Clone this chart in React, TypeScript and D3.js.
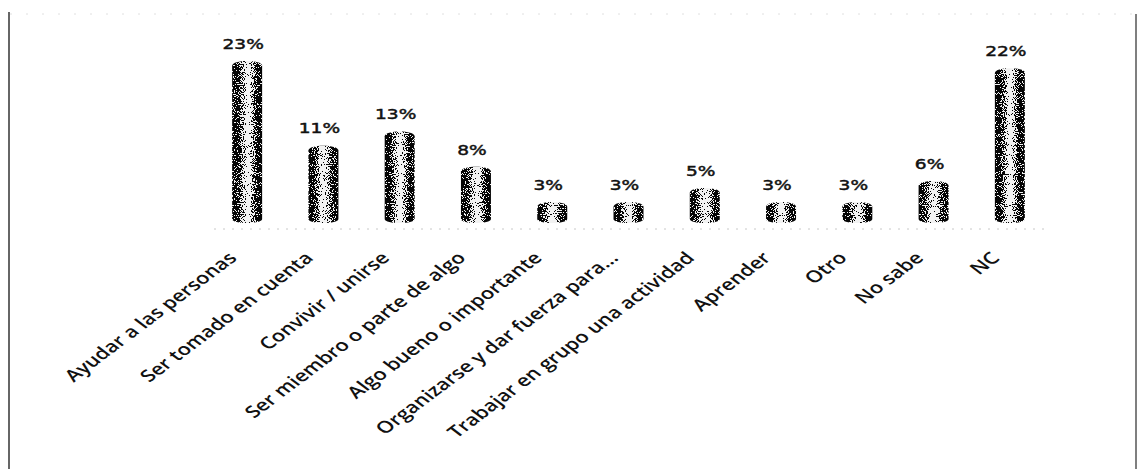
import React from "react";
import * as d3 from "d3";

const categories: string[] = [
  "Ayudar a las personas",
  "Ser tomado en cuenta",
  "Convivir / unirse",
  "Ser miembro o parte de algo",
  "Algo bueno o importante",
  "Organizarse y dar fuerza para...",
  "Trabajar en grupo una actividad",
  "Aprender",
  "Otro",
  "No sabe",
  "NC",
];
const values: number[] = [23, 11, 13, 8, 3, 3, 5, 3, 3, 6, 22];
const valueLabels: string[] = ["23%", "11%", "13%", "8%", "3%", "3%", "5%", "3%", "3%", "6%", "22%"];

const W = 1137;
const H = 469;
const BASE = 223;
const SX = 1.33; // horizontal stretch of the scanned picture

export default function App() {
  const x = d3
    .scaleBand<string>()
    .domain(categories)
    .range([209, 1048])
    .paddingInner(0.607)
    .paddingOuter(0.3035);
  const y = d3.scaleLinear().domain([0, 25]).range([BASE, BASE - 25 * 7.05]);
  const bw = x.bandwidth();
  const ry = 4;

  const cyl = (x0: number, top: number) => {
    const p = d3.path();
    p.moveTo(x0, top + ry + 1);
    p.bezierCurveTo(x0, top - ry / 3, x0 + bw, top - ry / 3, x0 + bw, top + ry + 1);
    p.lineTo(x0 + bw, BASE - ry);
    p.bezierCurveTo(x0 + bw, BASE + ry / 3, x0, BASE + ry / 3, x0, BASE - ry);
    p.closePath();
    return p.toString();
  };

  return (
    <svg
      width={W}
      height={H}
      style={{ position: "absolute", left: 0, top: 0, background: "#fff" }}
    >
      <defs>
        <linearGradient id="cylGrad" x1="0" x2="1" y1="0" y2="0">
          <stop offset="0" stopColor="#000" />
          <stop offset="0.14" stopColor="#000" />
          <stop offset="0.3" stopColor="#3a3a3a" />
          <stop offset="0.52" stopColor="#a8a8a8" />
          <stop offset="0.72" stopColor="#3a3a3a" />
          <stop offset="0.86" stopColor="#000" />
          <stop offset="1" stopColor="#000" />
        </linearGradient>
        <filter id="dither" x="0" y="0" width="1" height="1" colorInterpolationFilters="sRGB">
          <feTurbulence type="fractalNoise" baseFrequency="0.9" numOctaves="1" seed="7" result="n" />
          <feColorMatrix
            in="n"
            type="matrix"
            values="2.2 0 0 0 -0.6  2.2 0 0 0 -0.6  2.2 0 0 0 -0.6  0 0 0 0 1"
            result="ng"
          />
          <feComposite in="SourceGraphic" in2="ng" operator="arithmetic" k1="0" k2="1" k3="-1" k4="0.5" result="d" />
          <feComponentTransfer in="d" result="b">
            <feFuncR type="discrete" tableValues="0.02 0.95" />
            <feFuncG type="discrete" tableValues="0.02 0.95" />
            <feFuncB type="discrete" tableValues="0.02 0.95" />
            <feFuncA type="linear" slope="0" intercept="1" />
          </feComponentTransfer>
          <feComposite in="b" in2="SourceAlpha" operator="in" />
        </filter>
      </defs>

      {/* frame */}
      <line x1={9} x2={9} y1={12} y2={H} stroke="#333" strokeWidth={1.5} />
      <line x1={1136} x2={1136} y1={14} y2={H} stroke="#555" strokeWidth={1.5} />
      <line x1={10} x2={1135} y1={14} y2={14} stroke="#e0e0e0" strokeWidth={1} strokeDasharray="2 14" />

      {/* axis baseline */}
      <line x1={214} x2={1045} y1={229} y2={229} stroke="#c8c8c8" strokeWidth={1} strokeDasharray="2 7" />

      {/* bars */}
      {categories.map((c, i) => (
        <path
          key={c}
          d={cyl(x(c)!, y(values[i]))}
          fill="url(#cylGrad)"
          filter="url(#dither)"
        />
      ))}

      {/* value labels */}
      {categories.map((c, i) => (
        <text
          key={"v" + c}
          transform={`translate(${x(c)! + bw / 2 - 4},${y(values[i]) - 12}) scale(${SX},1)`}
          textAnchor="middle"
          fontFamily="DejaVu Sans"
          fontSize={14}
          fill="#111"
          stroke="#111"
          strokeWidth={0.45}
        >
          {valueLabels[i]}
        </text>
      ))}

      {/* category labels */}
      {categories.map((c) => (
        <text
          key={"c" + c}
          transform={`translate(${x(c)! + bw / 2 - 9},${259}) scale(${SX},1) rotate(-45)`}
          textAnchor="end"
          fontFamily="Open Sans"
          fontWeight={600}
          fontSize={16.5}
          fill="#111"
        >
          {c}
        </text>
      ))}
    </svg>
  );
}
